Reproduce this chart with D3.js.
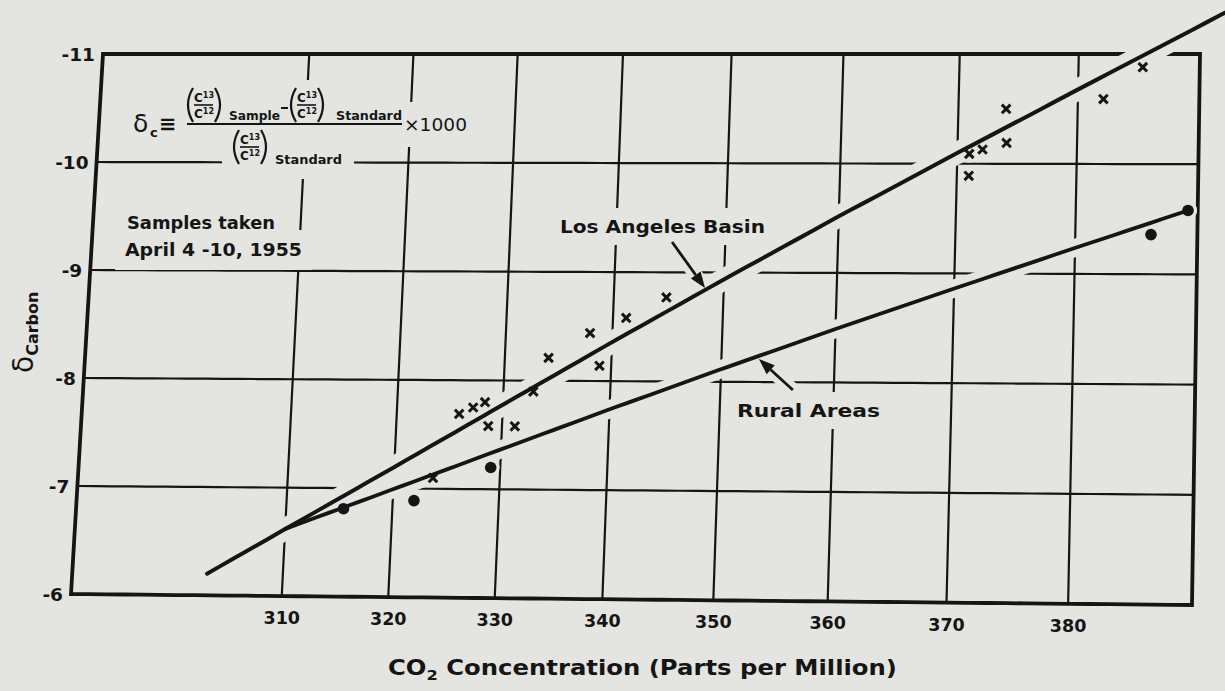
<!DOCTYPE html>
<html><head><meta charset="utf-8">
<script src="https://cdn.jsdelivr.net/npm/d3@7"></script>
<style>
html,body{margin:0;padding:0;background:#e4e4e0;}
svg{display:block;}
text{font-family:"DejaVu Sans",sans-serif;fill:#151515;}
</style></head><body>
<svg id="chart" width="1225" height="691"></svg>
<script>
// ---------------- data ----------------
const xTickValues = [310, 320, 330, 340, 350, 360, 370, 380];
const xTickLabels = ["310", "320", "330", "340", "350", "360", "370", "380"];
const yTickValues = [-6, -7, -8, -9, -10, -11];
const yTickLabels = ["-6", "-7", "-8", "-9", "-10", "-11"];
const yGridValues = [-7, -8, -9, -10];

// Los Angeles Basin samples (x markers)
const laCO2   = [344.8, 341.2, 337.9, 334.1, 338.9, 332.8, 328.3, 327.2, 325.9, 328.7, 331.2, 323.7,
                 385.3, 382.1, 374.0, 374.1, 372.1, 371.0, 371.0];
const laDelta = [-8.77, -8.58, -8.44, -8.21, -8.14, -7.90, -7.80, -7.75, -7.69, -7.58, -7.58, -7.10,
                 -10.88, -10.59, -10.50, -10.19, -10.13, -10.09, -9.89];
// Rural areas samples (filled circles)
const ruralCO2   = [315.4, 322.0, 329.1, 386.2, 389.2];
const ruralDelta = [-6.81, -6.89, -7.20, -9.36, -9.58];
// Fitted lines (end points)
const laLineCO2   = [302.8, 394.0];
const laLineDelta = [-6.20, -11.49];
const ruralLineCO2   = [310.0, 389.2];
const ruralLineDelta = [-6.62, -9.58];

// ---------------- layout ----------------
const BG = "#e4e4e0", INK = "#151515";
const svg = d3.select("#chart");
svg.append("rect").attr("width", 1225).attr("height", 691).attr("fill", BG);

// x scale follows the (slightly curved) scanned page; y is linear
const x = d3.scaleLinear()
  .domain([290, 310, 320, 330, 340, 350, 360, 370, 380, 390])
  .range([0, .188, .283, .378, .474, .573, .675, .781, .8895, 1]);
const y = d3.scaleLinear().domain([-6, -11]).range([0, 1]);
// corners of the photographed frame
const TL = [103, 54], TR = [1200, 54], BR = [1192, 605], BL = [71, 594];
function P(xv, yv) {
  const u = x(xv), v = y(yv);
  const bx = BL[0] + u * (BR[0] - BL[0]), by = BL[1] + u * (BR[1] - BL[1]);
  const tx = TL[0] + u * (TR[0] - TL[0]), ty = TL[1] + u * (TR[1] - TL[1]);
  return [bx + (tx - bx) * v, by + (ty - by) * v];
}
function seg(x0, y0, x1, y1, n = 60) {
  return d3.range(n + 1).map(i => P(x0 + (x1 - x0) * i / n, y0 + (y1 - y0) * i / n));
}
const line = d3.line();
const [xMin, xMax] = [290, 390], [yMin, yMax] = [-6, -11];

const gGrid = svg.append("g");
const gHalo = svg.append("g");
const gLines = svg.append("g");
const gMarks = svg.append("g");
const gText = svg.append("g");

// grid
xTickValues.forEach(t => gGrid.append("path").attr("d", line(seg(t, yMin, t, yMax)))
  .attr("fill", "none").attr("stroke", INK).attr("stroke-width", 2.2));
yGridValues.forEach(t => gGrid.append("path").attr("d", line(seg(xMin, t, xMax, t)))
  .attr("fill", "none").attr("stroke", INK).attr("stroke-width", 2.2));
// frame
const framePts = [].concat(seg(xMin, yMin, xMax, yMin), seg(xMax, yMin, xMax, yMax),
  seg(xMax, yMax, xMin, yMax), seg(xMin, yMax, xMin, yMin));
gGrid.append("path").attr("d", line(framePts) + "Z").attr("fill", "none")
  .attr("stroke", INK).attr("stroke-width", 3.8).attr("stroke-linejoin", "miter");

// fitted lines
const laPath = seg(laLineCO2[0], laLineDelta[0], laLineCO2[1], laLineDelta[1], 80);
const ruPath = seg(ruralLineCO2[0], ruralLineDelta[0], ruralLineCO2[1], ruralLineDelta[1], 80);
gHalo.append("path").attr("d", line(laPath)).attr("fill", "none").attr("stroke", BG)
  .attr("stroke-width", 22).attr("stroke-linecap", "round");
gHalo.append("path").attr("d", line(ruPath)).attr("fill", "none").attr("stroke", BG)
  .attr("stroke-width", 18).attr("stroke-linecap", "round");
gLines.append("path").attr("d", line(laPath)).attr("fill", "none").attr("stroke", INK)
  .attr("stroke-width", 4).attr("stroke-linecap", "round");
gLines.append("path").attr("d", line(ruPath)).attr("fill", "none").attr("stroke", INK)
  .attr("stroke-width", 3.8).attr("stroke-linecap", "round");

// markers
const laPts = laCO2.map((c, i) => P(c, laDelta[i]));
const ruPts = ruralCO2.map((c, i) => P(c, ruralDelta[i]));
laPts.concat(ruPts).forEach(p => gHalo.append("circle").attr("cx", p[0]).attr("cy", p[1])
  .attr("r", 9).attr("fill", BG));
laPts.forEach(p => {
  const s = 4.3;
  gMarks.append("path")
    .attr("d", `M${p[0]-s},${p[1]-s}L${p[0]+s},${p[1]+s}M${p[0]+s},${p[1]-s}L${p[0]-s},${p[1]+s}`)
    .attr("stroke", INK).attr("stroke-width", 3).attr("stroke-linecap", "butt");
});
ruPts.forEach(p => gMarks.append("circle").attr("cx", p[0]).attr("cy", p[1]).attr("r", 5.8).attr("fill", INK));

// arrows
function lineAt(xs, ys, xv) { return ys[0] + (ys[1] - ys[0]) * (xv - xs[0]) / (xs[1] - xs[0]); }
function arrow(tip, dx, dy) {
  const tail = [tip[0] + dx, tip[1] + dy];
  const L = Math.hypot(dx, dy), ux = -dx / L, uy = -dy / L, nx = -uy, ny = ux;
  const hl = 16, hw = 6;
  const b = [tip[0] - ux * hl, tip[1] - uy * hl];
  gHalo.append("path").attr("d", `M${tail}L${tip}`).attr("stroke", BG).attr("stroke-width", 14);
  gMarks.append("path").attr("d", `M${tail}L${b}`).attr("stroke", INK).attr("stroke-width", 2.8);
  gMarks.append("path").attr("d", `M${tip}L${b[0]+nx*hw},${b[1]+ny*hw}L${b[0]-nx*hw},${b[1]-ny*hw}Z`)
    .attr("fill", INK);
}
const laTipX = 348.3, ruTipX = 353.3;
const laTip = P(laTipX, lineAt(laLineCO2, laLineDelta, laTipX));
const ruTip = P(ruTipX, lineAt(ruralLineCO2, ruralLineDelta, ruTipX));
arrow([laTip[0], laTip[1] - 2], -33, -46);
arrow([ruTip[0], ruTip[1] + 3], 34, 31);

// ---------------- text ----------------
function txt(g, xp, yp, s, size, opts = {}) {
  const t = g.append("text").attr("x", xp).attr("y", yp).attr("font-size", size)
    .attr("font-weight", opts.weight || "bold").text(s);
  if (opts.anchor) t.attr("text-anchor", opts.anchor);
  if (opts.len) t.attr("textLength", opts.len).attr("lengthAdjust", "spacingAndGlyphs");
  return t;
}
// tick labels
xTickValues.forEach((t, i) => { const p = P(t, yMin); txt(gText, p[0], p[1] + 28, xTickLabels[i], 17.5, {anchor: "middle"}); });
yTickValues.forEach((t, i) => { const p = P(xMin, t); txt(gText, p[0] - 8, p[1] + 6.5, yTickLabels[i], 18.5, {anchor: "end"}); });

// axis titles
const xt = gText.append("text").attr("x", 388).attr("y", 675).attr("font-size", 21)
  .attr("font-weight", "bold")
  .attr("textLength", 509).attr("lengthAdjust", "spacingAndGlyphs");
xt.append("tspan").text("CO");
xt.append("tspan").attr("font-size", 14).attr("dy", 5).text("2");
xt.append("tspan").attr("dy", -5).text("  Concentration (Parts per Million)");
const yt = gText.append("text").attr("transform", "translate(33,373) rotate(-90)");
yt.append("tspan").attr("font-size", 28).text("δ");
yt.append("tspan").attr("font-size", 16).attr("dy", 5).attr("font-weight", "bold").text("Carbon");

// annotations (with paper-coloured clearing behind them)
const haloItems = [];
haloItems.push([txt(gText, 560, 233, "Los Angeles Basin", 18, {len: 205}), 8]);
haloItems.push([txt(gText, 737, 417, "Rural Areas", 18, {len: 143}), 8]);
haloItems.push([txt(gText, 127, 229, "Samples taken", 17, {len: 148}), 9]);
haloItems.push([txt(gText, 125, 256, "April 4 -10, 1955", 17, {len: 177}), 10]);

// formula
function paren(g, x0, top, bot, open) {
  const mid = (top + bot) / 2, w = 8;
  const d = open ? `M${x0 + w},${top}Q${x0 - 2},${mid} ${x0 + w},${bot}`
                 : `M${x0},${top}Q${x0 + w + 2},${mid} ${x0},${bot}`;
  g.append("path").attr("d", d).attr("fill", "none").attr("stroke", INK).attr("stroke-width", 2.2);
}
function smallC(g, x0, base, sup) {
  const t = g.append("text").attr("x", x0).attr("y", base).attr("font-size", 12).attr("font-weight", "bold");
  t.append("tspan").text("C");
  t.append("tspan").attr("font-size", 8).attr("dy", -4).text(sup);
}
function ratio(g, x0, top, bot) {
  paren(g, x0, top, bot, true);
  const mid = (top + bot) / 2;
  smallC(g, x0 + 9, mid - 3.5, "13");
  g.append("line").attr("x1", x0 + 9).attr("x2", x0 + 28).attr("y1", mid).attr("y2", mid)
    .attr("stroke", INK).attr("stroke-width", 1.6);
  smallC(g, x0 + 9, mid + 13, "12");
  paren(g, x0 + 30, top, bot, false);
}
const fNum = gText.append("g"), fDen = gText.append("g"), fTimes = gText.append("g"), fDel = gText.append("g");
ratio(fNum, 185, 88, 122);
txt(fNum, 229, 120, "Sample", 13, {len: 51});
fNum.append("line").attr("x1", 281).attr("x2", 288).attr("y1", 108).attr("y2", 108)
  .attr("stroke", INK).attr("stroke-width", 2);
ratio(fNum, 288, 88, 122);
txt(fNum, 336, 120, "Standard", 13, {len: 66});
gText.append("line").attr("x1", 187).attr("x2", 402).attr("y1", 124).attr("y2", 124)
  .attr("stroke", INK).attr("stroke-width", 2.2);
ratio(fDen, 231, 130, 164);
txt(fDen, 275, 164, "Standard", 13, {len: 67});
txt(fTimes, 404, 131, "×1000", 18, {len: 63, weight: "normal"});
txt(fDel, 133, 132, "δ", 25, {weight: "normal"});
txt(fDel, 150, 137, "c", 13);
txt(fDel, 159, 131, "≡", 21, {weight: "bold"});
haloItems.push([fNum, 8], [fDen, 12], [fTimes, 12], [fDel, 6]);

haloItems.forEach(([sel, pad]) => {
  const b = sel.node().getBBox();
  gHalo.append("rect").attr("x", b.x - pad).attr("y", b.y - pad)
    .attr("width", b.width + 2 * pad).attr("height", b.height + 2 * pad).attr("fill", BG);
});
</script>
</body></html>
